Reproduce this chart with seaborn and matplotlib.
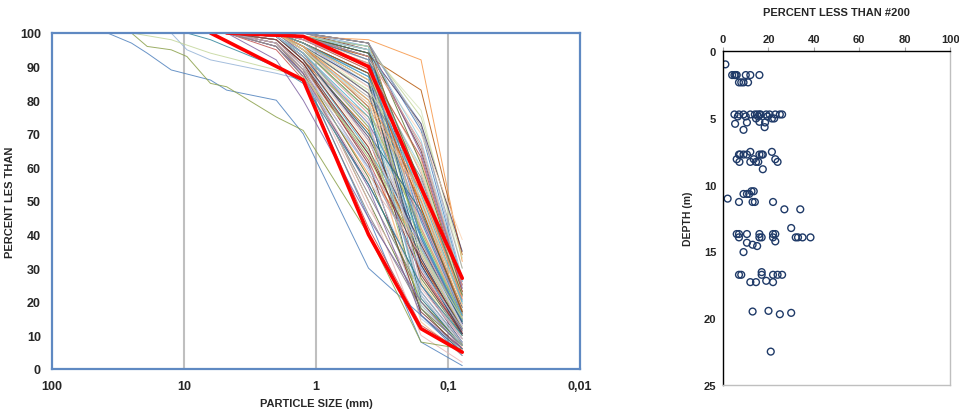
import numpy as np
import pandas as pd
import matplotlib
matplotlib.use("Agg")
import matplotlib.pyplot as plt
import seaborn as sns

# ---------------- data ----------------
# percent less than #200 and sample depth (right panel, also the 0.078 mm end of each curve)
depth_m = [1.0,
           1.8, 1.8, 1.8, 1.8, 1.8, 1.8, 1.8,
           2.35, 2.35, 2.35, 2.35,
           4.75, 4.75, 4.75, 4.75, 4.75, 4.75, 4.75, 4.75, 4.75, 4.75, 4.75, 4.75, 4.75,
           4.9, 4.9, 4.9, 4.9,
           5.05, 5.05, 5.05,
           5.3, 5.35, 5.35, 5.45, 5.7, 5.9,
           7.55, 7.55,
           7.75, 7.75, 7.75, 7.75, 7.75, 7.75, 7.75,
           8.1, 8.1, 8.1,
           8.3, 8.3, 8.3, 8.3, 8.3,
           8.85, 10.5, 10.5, 10.7, 10.7, 10.7, 11.05,
           11.3, 11.3, 11.3, 11.3, 11.85, 11.85, 13.25,
           13.7, 13.7, 13.7, 13.7, 13.7, 13.7,
           13.95, 13.95, 13.95, 13.95, 13.95, 13.95, 13.95, 13.95,
           14.25, 14.35, 14.5, 14.6, 15.05, 16.55,
           16.75, 16.75, 16.75, 16.75, 16.75, 16.75,
           17.3, 17.3, 17.2, 17.3,
           19.5, 19.45, 19.7, 19.6, 22.5]
fines_pct = [1,
             4, 5, 5.5, 6, 10, 12, 16,
             7, 8, 9, 11,
             5, 7, 9, 12, 14, 15, 16, 16.5, 19, 20.5, 23, 25, 26,
             6.5, 10, 15.5, 19.5,
             21.5, 22.5, 14.5,
             16, 10.5, 18.5, 5.3, 18.3, 9,
             12, 21.5,
             7, 7.5, 9, 10.5, 16, 17, 17.5,
             6, 13.5, 23,
             7.2, 12, 14.5, 15.5, 24,
             17.5, 12.5, 13.5, 9, 10.5, 11.5, 2,
             7, 13, 14, 22, 27, 34, 30,
             6, 7, 10.5, 16, 22, 23,
             7, 16, 17, 22, 32, 33, 35, 38.5,
             23, 10.5, 13, 15, 9, 17,
             7, 8, 17, 22, 24, 26,
             12, 14.5, 19, 22,
             13, 20, 25, 30, 21]

# percent passing the coarser sieves, same sample order
pass_4750 = [100] * len(fines_pct)
pass_2000 = [96, 99, 98, 99, 100, 97, 100, 98, 100, 96, 100, 100,
             100, 97, 100, 99, 100, 98, 100, 100, 100, 100, 100, 100, 100,
             99, 100, 98, 100, 100, 100, 97, 100, 100, 99, 95, 100, 99,
             98, 100, 100, 97, 100, 99, 100, 100, 100, 98, 100, 100,
             97, 100, 99, 100, 100, 100, 100, 99, 100, 98, 100, 97,
             99, 97, 100, 100, 100, 100, 100, 96, 100, 99, 100, 100, 100,
             98, 99, 100, 100, 100, 100, 100, 100, 100, 100, 96, 100, 100, 99,
             96, 99, 100, 100, 100, 100, 98, 100, 100, 100, 99, 100, 100, 100, 100]
pass_1250 = [88, 93, 90, 92, 97, 89, 99, 91, 95, 87, 98, 94,
             96, 89, 99, 93, 99, 90, 97, 100, 94, 99, 96, 100, 100,
             92, 97, 91, 99, 95, 98, 88, 98, 96, 93, 86, 99, 94,
             90, 97, 95, 88, 99, 92, 98, 94, 100, 91, 97, 98,
             89, 95, 92, 99, 99, 96, 98, 93, 96, 90, 97, 90,
             94, 89, 99, 96, 100, 98, 99, 88, 95, 92, 99, 97, 100,
             90, 94, 98, 95, 99, 99, 99, 98, 98, 96, 87, 95, 98, 93,
             87, 94, 97, 96, 100, 99, 91, 99, 95, 99, 93, 97, 99, 100, 96]
pass_0400 = [45, 70, 50, 62, 88, 60, 94, 75, 83, 55, 90, 68,
             78, 48, 92, 72, 96, 64, 85, 97, 80, 93, 88, 95, 97,
             66, 86, 70, 94, 76, 91, 58, 90, 82, 67, 42, 95, 74,
             63, 84, 77, 52, 93, 71, 89, 73, 96, 61, 87, 90,
             57, 79, 65, 92, 95, 78, 91, 69, 84, 62, 88, 50,
             72, 60, 93, 82, 96, 93, 95, 54, 80, 66, 94, 86, 97,
             59, 75, 91, 81, 98, 96, 94, 92, 89, 85, 56, 77, 90, 70,
             46, 73, 88, 83, 97, 95, 64, 92, 79, 94, 68, 87, 93, 97, 80]
pass_0160 = [8, 14, 18, 15, 22, 30, 35, 42, 20, 25, 28, 33,
             16, 22, 26, 36, 40, 38, 45, 48, 52, 55, 60, 65, 71,
             19, 27, 44, 50, 53, 58, 37, 41, 31, 47, 13, 46, 24,
             34, 56, 21, 23, 29, 32, 43, 45, 49, 17, 39, 62,
             20, 30, 40, 42, 66, 50, 35, 37, 26, 29, 33, 10,
             18, 38, 36, 57, 73, 83, 77, 16, 19, 28, 44, 59, 61,
             22, 39, 46, 54, 92, 75, 73, 70, 63, 31, 34, 41, 25, 47,
             18, 23, 48, 60, 64, 68, 32, 39, 51, 55, 36, 52, 67, 72, 53]
sieve_mm = [4.75, 2.0, 1.25, 0.4, 0.16, 0.078]

# a few samples that also had coarse sieves (NaN = sieve not reported)
coarse_mm = [38, 25, 19, 12.5, 9.5, 6.3, 4.75, 2.0, 1.25, 0.4, 0.16, 0.078]
coarse_blue = [100, 97, 94, 89, np.nan, 86, 83, 80, 70, 30, 16, 4]
coarse_olive = [np.nan, 100, 96, 95, 93, 85, 84, 75, 71, 40, 8, 6]
coarse_sky = [np.nan, np.nan, np.nan, 100, 95, 92, np.nan, 88, 86, 60, 30, 12]
coarse_pale = [np.nan, 100, np.nan, 98, np.nan, 94, np.nan, 89, 87, 65, 35, 15]
coarse_teal = [np.nan, np.nan, np.nan, np.nan, 100, 98, 96, 90, 85, 55, 25, 10]
coarse_violet = [np.nan, np.nan, np.nan, np.nan, np.nan, np.nan, 100, 92, 80, 45, 20, 6]

# red envelope curves
upper_mm = [4.75, 1.25, 0.4, 0.16, 0.078]
upper_pct = [100, 99, 90, 54, 27]
lower_mm = [6.3, 1.25, 0.4, 0.16, 0.078]
lower_pct = [100, 86, 40, 12, 5]

# ---------------- build long table ----------------
rows = []
cols = [pass_4750, pass_2000, pass_1250, pass_0400, pass_0160, fines_pct]
for i in range(len(fines_pct)):
    for size, col in zip(sieve_mm, cols):
        rows.append((f"s{i}", size, col[i]))
coarse = {"cblue": coarse_blue, "colive": coarse_olive, "csky": coarse_sky,
          "cpale": coarse_pale, "cteal": coarse_teal, "cviolet": coarse_violet}
for name, vals in coarse.items():
    for size, v in zip(coarse_mm, vals):
        if not np.isnan(v):
            rows.append((name, size, v))
df = pd.DataFrame(rows, columns=["sample", "size", "pct"])

excel = ["#4F81BD", "#F79646", "#9BBB59", "#8064A2", "#4BACC6", "#C0504D",
         "#95B3D7", "#FAC090", "#C3D69B", "#B3A2C7", "#93CDDD", "#D99694",
         "#2C4D75", "#B65708", "#5F7530", "#4D3B62", "#276A7C", "#772C2A",
         "#A5A5A5", "#E6B9B8", "#D7E4BD", "#B9CDE5", "#FCD5B5", "#7F7F7F"]
names = df["sample"].unique()
pal = {n: excel[(k * 7) % len(excel)] for k, n in enumerate(names)}
pal.update({"cblue": "#4F81BD", "colive": "#8AA04A", "csky": "#95B3D7",
            "cpale": "#C3D69B", "cteal": "#31859C", "cviolet": "#8064A2"})

sns.set_style("white")
plt.rcParams["font.family"] = ["Liberation Sans", "DejaVu Sans"]
plt.rcParams["font.weight"] = "bold"

fig = plt.figure(figsize=(9.59, 4.14), dpi=100)
ax = fig.add_axes([0.0542, 0.1063, 0.5506, 0.8116])
ax2 = fig.add_axes([0.754, 0.0676, 0.2367, 0.8068])

# ---------------- left: grading curves ----------------
ax.set_xscale("log")
sns.lineplot(data=df, x="size", y="pct", hue="sample", units="sample", estimator=None,
             palette=pal, linewidth=0.7, alpha=0.85, legend=False, sort=False, ax=ax)
sns.lineplot(x=upper_mm, y=upper_pct, color="#FF0000", linewidth=2.6, sort=False, ax=ax)
sns.lineplot(x=lower_mm, y=lower_pct, color="#FF0000", linewidth=2.6, sort=False, ax=ax)
for g in [10, 1, 0.1]:
    ax.axvline(g, color="#BFBFBF", linewidth=1.5, zorder=0)
ax.set_xlim(100, 0.01)
ax.set_ylim(0, 100)
ax.set_xticks([100, 10, 1, 0.1, 0.01])
ax.set_xticklabels(["100", "10", "1", "0,1", "0,01"])
ax.minorticks_off()
ax.set_yticks(range(0, 101, 10))
ax.tick_params(length=0, labelsize=9, pad=8)
for lab in ax.get_xticklabels() + ax.get_yticklabels():
    lab.set_fontweight("bold")
for sp in ax.spines.values():
    sp.set_color("#5F89C2")
    sp.set_linewidth(1.6)
    sp.set_zorder(5)
ax.set_xlabel("PARTICLE SIZE (mm)", fontsize=8, fontweight="bold", labelpad=4)
ax.set_ylabel("PERCENT LES THAN", fontsize=8, fontweight="bold")
ax.yaxis.set_label_coords(-0.07, 0.5)

# ---------------- right: fines vs depth ----------------
sns.scatterplot(x=fines_pct, y=depth_m, marker="o", s=24, facecolor="none",
                edgecolor="#1F3A68", linewidth=1.0, ax=ax2)
ax2.set_xlim(0, 100)
ax2.set_ylim(25, 0)
ax2.xaxis.tick_top()
ax2.set_xticks(range(0, 101, 20))
ax2.set_yticks(range(0, 26, 5))
ax2.tick_params(length=3, color="#A6A6A6", labelsize=8, pad=2)
for lab in ax2.get_xticklabels() + ax2.get_yticklabels():
    lab.set_fontweight("bold")
ax2.spines["left"].set_color("black")
ax2.spines["top"].set_color("black")
ax2.spines["right"].set_color("#BFBFBF")
ax2.spines["bottom"].set_color("#BFBFBF")
for sp in ax2.spines.values():
    sp.set_linewidth(1.0)
ax2.set_ylabel("DEPTH (m)", fontsize=7.5, fontweight="bold", labelpad=8)
ax2.set_title("PERCENT LESS THAN #200", fontsize=8, fontweight="bold", pad=26)

fig.savefig("out.png", dpi=100)
